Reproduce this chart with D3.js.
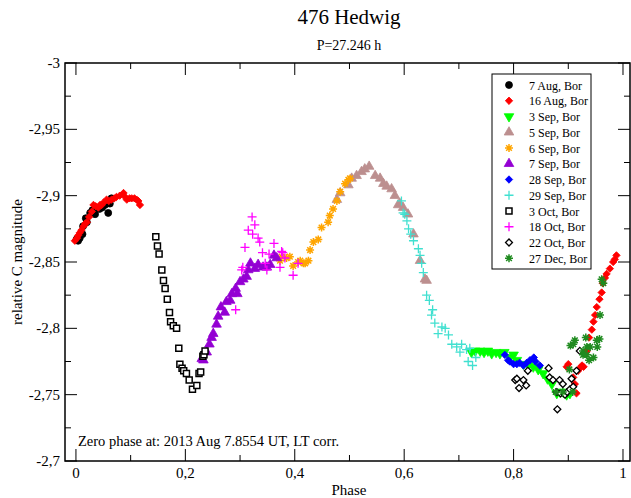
<!DOCTYPE html>
<html>
<head>
<meta charset="utf-8">
<script src="https://cdn.jsdelivr.net/npm/d3@7"></script>
<style>
  body { margin: 0; background: #fff; }
</style>
</head>
<body>
<div id="chart"></div>
<script>
// session data, [phase, relative C magnitude]
const aug07 = [[0.001,-2.867],[0.004,-2.866],[0.007,-2.868],[0.012,-2.871],[0.013,-2.877],[0.018,-2.883],
  [0.020,-2.880],[0.026,-2.887],[0.030,-2.889],[0.035,-2.886],[0.043,-2.890],[0.048,-2.891],[0.053,-2.893],
  [0.059,-2.887],[0.062,-2.894],[0.065,-2.898]];
const aug16 = [[-0.002,-2.866],[0.002,-2.868],[0.004,-2.870],[0.007,-2.872],[0.010,-2.874],[0.014,-2.877],
  [0.017,-2.879],[0.020,-2.880],[0.024,-2.884],[0.029,-2.888],[0.032,-2.893],[0.036,-2.892],[0.041,-2.891],
  [0.044,-2.893],[0.047,-2.893],[0.051,-2.895],[0.056,-2.897],[0.060,-2.896],[0.065,-2.897],[0.070,-2.898],
  [0.074,-2.899],[0.080,-2.900],[0.087,-2.902],[0.090,-2.899],[0.093,-2.897],[0.098,-2.898],[0.102,-2.898],
  [0.107,-2.898],[0.111,-2.897],[0.114,-2.896],[0.117,-2.893],
  [0.897,-2.771],[0.900,-2.773],[0.909,-2.763],[0.912,-2.758],[0.915,-2.751],[0.918,-2.768],[0.921,-2.770],
  [0.925,-2.772],[0.928,-2.771],[0.934,-2.783],[0.938,-2.793],[0.943,-2.799],[0.946,-2.805],[0.949,-2.810],
  [0.952,-2.816],[0.957,-2.822],[0.961,-2.827],[0.963,-2.834],[0.967,-2.838],[0.970,-2.841],[0.976,-2.845],
  [0.982,-2.850],[0.985,-2.852],[0.988,-2.855]];
const sep03 = [[0.723,-2.782],[0.730,-2.783],[0.739,-2.783],[0.746,-2.782],[0.753,-2.783],[0.760,-2.781],
  [0.768,-2.782],[0.775,-2.781],[0.783,-2.782],[0.793,-2.778],[0.800,-2.780],[0.806,-2.776],[0.818,-2.773],
  [0.827,-2.772],[0.836,-2.771],[0.845,-2.769],[0.854,-2.766],[0.862,-2.762],[0.870,-2.758],[0.879,-2.751],
  [0.885,-2.752],[0.891,-2.752],[0.897,-2.750],[0.903,-2.751]];
const sep05 = [[0.477,-2.897],[0.483,-2.902],[0.498,-2.908],[0.504,-2.913],[0.513,-2.915],[0.522,-2.918],
  [0.528,-2.920],[0.536,-2.922],[0.547,-2.915],[0.556,-2.913],[0.562,-2.909],[0.568,-2.907],[0.577,-2.905],
  [0.583,-2.900],[0.589,-2.893],[0.592,-2.894],[0.598,-2.891],[0.607,-2.886],[0.617,-2.871],[0.629,-2.851],
  [0.638,-2.837],[0.641,-2.836]];
const sep06 = [[0.373,-2.851],[0.376,-2.854],[0.385,-2.853],[0.391,-2.854],[0.397,-2.847],[0.406,-2.850],
  [0.410,-2.851],[0.416,-2.849],[0.419,-2.849],[0.425,-2.851],[0.428,-2.859],[0.434,-2.865],[0.443,-2.867],
  [0.449,-2.876],[0.461,-2.880],[0.464,-2.885],[0.470,-2.890],[0.477,-2.896],[0.483,-2.903],[0.492,-2.909],
  [0.498,-2.912],[0.501,-2.913]];
const sep07 = [[0.230,-2.777],[0.233,-2.776],[0.239,-2.782],[0.244,-2.788],[0.248,-2.793],[0.251,-2.796],
  [0.257,-2.803],[0.260,-2.809],[0.265,-2.816],[0.272,-2.812],[0.275,-2.820],[0.282,-2.821],[0.285,-2.826],
  [0.292,-2.830],[0.295,-2.826],[0.300,-2.835],[0.306,-2.837],[0.312,-2.839],[0.315,-2.844],[0.319,-2.849],
  [0.327,-2.845],[0.333,-2.848],[0.342,-2.846],[0.349,-2.846],[0.355,-2.848],[0.362,-2.855],[0.367,-2.853]];
const sep28 = [[0.784,-2.780],[0.790,-2.776],[0.793,-2.775],[0.800,-2.773],[0.806,-2.773],[0.811,-2.774],
  [0.818,-2.772],[0.824,-2.774],[0.830,-2.776],[0.837,-2.778],[0.840,-2.775],[0.848,-2.772]];
const sep29 = [[0.595,-2.896],[0.598,-2.887],[0.601,-2.886],[0.605,-2.881],[0.608,-2.875],[0.612,-2.871],
  [0.617,-2.866],[0.626,-2.860],[0.629,-2.855],[0.632,-2.849],[0.635,-2.842],[0.641,-2.825],[0.646,-2.821],
  [0.652,-2.814],[0.650,-2.810],[0.656,-2.804],[0.669,-2.801],[0.675,-2.800],[0.662,-2.796],[0.681,-2.795],
  [0.687,-2.788],[0.696,-2.786],[0.705,-2.788],[0.702,-2.782],[0.714,-2.784],[0.720,-2.785],[0.717,-2.775],
  [0.725,-2.772],[0.731,-2.778]];
const oct03 = [[0.146,-2.869],[0.149,-2.862],[0.152,-2.856],[0.157,-2.844],[0.160,-2.836],[0.163,-2.830],
  [0.167,-2.822],[0.171,-2.812],[0.173,-2.805],[0.178,-2.802],[0.184,-2.800],[0.188,-2.785],[0.190,-2.773],
  [0.194,-2.770],[0.197,-2.768],[0.202,-2.766],[0.207,-2.761],[0.213,-2.754],[0.221,-2.757],[0.225,-2.766],
  [0.228,-2.767],[0.232,-2.779],[0.234,-2.780],[0.236,-2.783]];
const oct18 = [[0.292,-2.814],[0.303,-2.844],[0.305,-2.846],[0.309,-2.861],[0.315,-2.874],[0.322,-2.884],
  [0.323,-2.871],[0.327,-2.878],[0.333,-2.868],[0.336,-2.865],[0.341,-2.857],[0.346,-2.849],[0.349,-2.844],
  [0.353,-2.856],[0.362,-2.864],[0.373,-2.846],[0.376,-2.858],[0.378,-2.857],[0.382,-2.853],[0.397,-2.840],
  [0.406,-2.849]];
const oct22 = [[0.803,-2.761],[0.806,-2.762],[0.810,-2.755],[0.818,-2.761],[0.823,-2.757],[0.826,-2.768],
  [0.864,-2.770],[0.866,-2.763],[0.872,-2.761],[0.879,-2.752],[0.880,-2.739],[0.884,-2.761],[0.886,-2.751],
  [0.890,-2.758],[0.894,-2.750],[0.898,-2.752],[0.903,-2.754],[0.906,-2.762],[0.909,-2.756],[0.915,-2.768],
  [0.921,-2.783]];
const dec27 = [[0.877,-2.752],[0.890,-2.752],[0.902,-2.769],[0.904,-2.787],[0.908,-2.752],[0.909,-2.788],
  [0.912,-2.791],[0.927,-2.783],[0.927,-2.780],[0.932,-2.793],[0.934,-2.786],[0.934,-2.780],[0.938,-2.776],
  [0.940,-2.786],[0.946,-2.778],[0.952,-2.791],[0.953,-2.786],[0.957,-2.792],[0.958,-2.810],[0.961,-2.837],
  [0.964,-2.834]];

const sessions = ["7 Aug, Bor","16 Aug, Bor","3 Sep, Bor","5 Sep, Bor","6 Sep, Bor","7 Sep, Bor",
  "28 Sep, Bor","29 Sep, Bor","3 Oct, Bor","18 Oct, Bor","22 Oct, Bor","27 Dec, Bor"];
const xTicks = [0, 0.2, 0.4, 0.6, 0.8, 1];
const yTicks = [-3, -2.95, -2.9, -2.85, -2.8, -2.75, -2.7];

const width = 631, height = 498;
const mLeft = 65, mRight = 630, mTop = 63, mBottom = 461;

const svg = d3.select("#chart").append("svg")
  .attr("width", width).attr("height", height)
  .attr("font-family", "'Liberation Serif', 'Times New Roman', Times, serif");

const x = d3.scaleLinear().domain([-0.02, 1.0128]).range([mLeft, mRight]);
const y = d3.scaleLinear().domain([-3, -2.7]).range([mTop, mBottom]);
const fmt = v => String(+v.toFixed(2)).replace(".", ",");

// marker shapes
const plusPath = r => `M${-r},0H${r}M0,${-r}V${r}`;
const starPath = r => {
  const d = r * Math.SQRT1_2;
  return `M${-r},0H${r}M0,${-r}V${r}M${-d},${-d}L${d},${d}M${-d},${d}L${d},${-d}`;
};
const sym = (type, size) => d3.symbol().type(type).size(size)();

const styles = [
  { color: "#000000", path: sym(d3.symbolCircle, 38), fill: true },
  { color: "#ff0000", path: sym(d3.symbolSquare, 27), fill: true, rot: 45 },
  { color: "#00ff00", path: sym(d3.symbolTriangle, 40), fill: true, rot: 180 },
  { color: "#bc8f8f", path: sym(d3.symbolTriangle, 40), fill: true },
  { color: "#ffa500", path: starPath(4), fill: false, sw: 1.5 },
  { color: "#9400d3", path: sym(d3.symbolTriangle, 40), fill: true },
  { color: "#0000ff", path: sym(d3.symbolSquare, 27), fill: true, rot: 45 },
  { color: "#40e0d0", path: plusPath(4.5), fill: false, sw: 1.3 },
  { color: "#000000", path: sym(d3.symbolSquare, 36), fill: false, sw: 1.5, bg: "#fff" },
  { color: "#ff00ff", path: plusPath(4.5), fill: false, sw: 1.3 },
  { color: "#000000", path: sym(d3.symbolSquare, 24), fill: false, sw: 1.3, bg: "#fff", rot: 45 },
  { color: "#1f8b1f", path: starPath(4), fill: false, sw: 1.5 }
];
const series = [aug07, aug16, sep03, sep05, sep06, sep07, sep28, sep29, oct03, oct18, oct22, dec27];

function marker(g, s) {
  g.append("path")
    .attr("d", s.path)
    .attr("transform", s.rot ? `rotate(${s.rot})` : null)
    .attr("fill", s.fill ? s.color : (s.bg || "none"))
    .attr("stroke", s.color)
    .attr("stroke-width", s.sw || 0.8);
}

// points
series.forEach((pts, i) => {
  const g = svg.append("g");
  pts.forEach(p => {
    const m = g.append("g").attr("transform", `translate(${x(p[0])},${y(p[1])})`);
    marker(m, styles[i]);
  });
});

// frame
svg.append("rect")
  .attr("x", mLeft).attr("y", mTop)
  .attr("width", mRight - mLeft).attr("height", mBottom - mTop)
  .attr("fill", "none").attr("stroke", "#000").attr("stroke-width", 1.5);

// inward ticks on all sides
const xMinor = d3.range(0, 1.001, 0.1);
const yMinor = d3.range(-3, -2.699, 0.025);
const ticks = svg.append("g").attr("stroke", "#000").attr("stroke-width", 1);
xMinor.forEach(v => {
  const major = xTicks.some(t => Math.abs(t - v) < 1e-6);
  const len = major ? 12 : 6;
  ticks.append("line").attr("x1", x(v)).attr("x2", x(v)).attr("y1", mBottom).attr("y2", mBottom - len);
  ticks.append("line").attr("x1", x(v)).attr("x2", x(v)).attr("y1", mTop).attr("y2", mTop + len);
});
yMinor.forEach(v => {
  const major = yTicks.some(t => Math.abs(t - v) < 1e-6);
  const len = major ? 12 : 6;
  ticks.append("line").attr("y1", y(v)).attr("y2", y(v)).attr("x1", mLeft).attr("x2", mLeft + len);
  ticks.append("line").attr("y1", y(v)).attr("y2", y(v)).attr("x1", mRight).attr("x2", mRight - len);
});

// tick labels
svg.append("g").selectAll("text").data(xTicks).join("text")
  .attr("x", d => x(d)).attr("y", mBottom + 17)
  .attr("text-anchor", "middle").attr("font-size", 15)
  .text(fmt);
svg.append("g").selectAll("text").data(yTicks).join("text")
  .attr("x", mLeft - 5).attr("y", d => y(d) + 5)
  .attr("text-anchor", "end").attr("font-size", 15)
  .text(fmt);

// titles
svg.append("text").attr("x", 349).attr("y", 24).attr("text-anchor", "middle")
  .attr("font-size", 21).text("476 Hedwig");
svg.append("text").attr("x", 349).attr("y", 50).attr("text-anchor", "middle")
  .attr("font-size", 14).text("P=27.246 h");
svg.append("text").attr("x", 349).attr("y", 495).attr("text-anchor", "middle")
  .attr("font-size", 15).text("Phase");
svg.append("text").attr("transform", `translate(22,${(mTop + mBottom) / 2}) rotate(-90)`)
  .attr("text-anchor", "middle").attr("font-size", 15).text("relative C magnitude");
svg.append("text").attr("x", 78).attr("y", 446).attr("font-size", 14.5)
  .text("Zero phase at: 2013 Aug 7.8554 UT, LT corr.");

// legend
const lg = svg.append("g");
lg.append("rect").attr("x", 492).attr("y", 74).attr("width", 99).attr("height", 195)
  .attr("fill", "#fff").attr("stroke", "#000").attr("stroke-width", 1);
sessions.forEach((name, i) => {
  const yy = 85 + i * 15.75;
  const m = lg.append("g").attr("transform", `translate(509,${yy})`);
  marker(m, styles[i]);
  lg.append("text").attr("x", 529).attr("y", yy + 4.5).attr("font-size", 12).text(name);
});
</script>
</body>
</html>
